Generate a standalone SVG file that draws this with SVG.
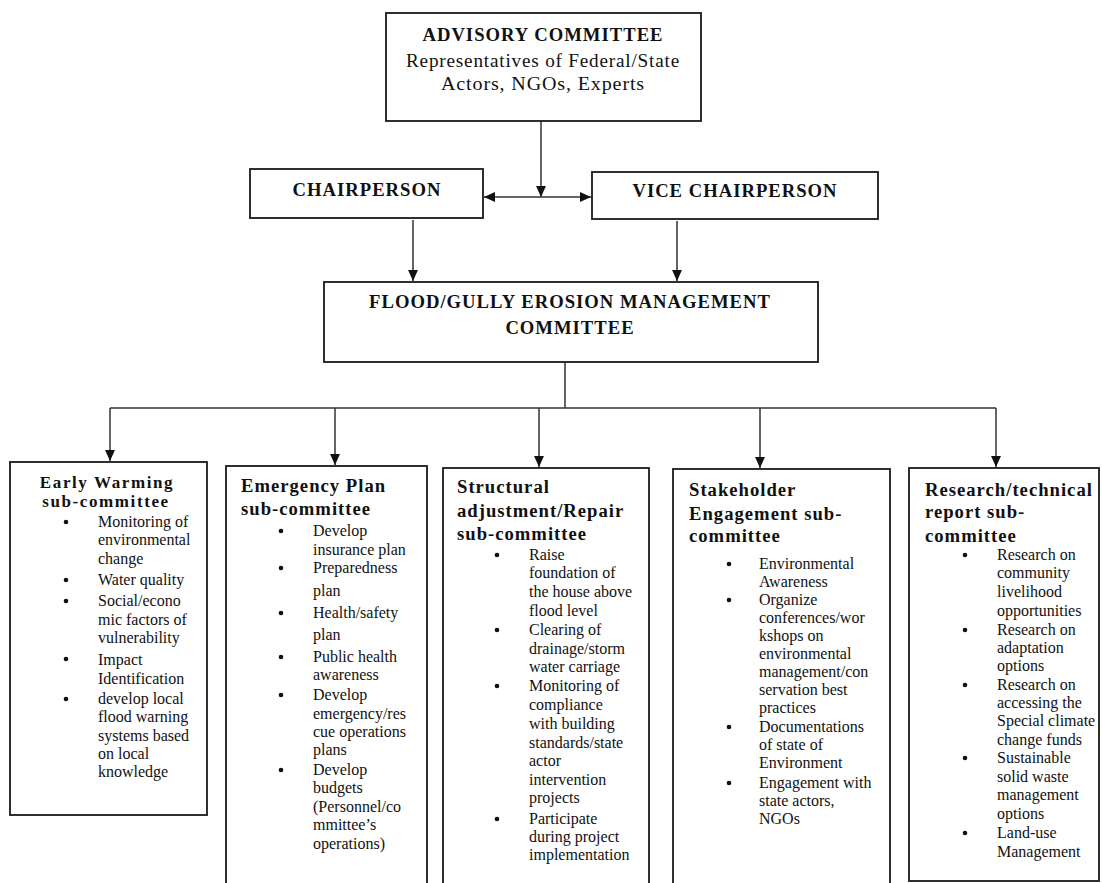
<svg xmlns="http://www.w3.org/2000/svg" width="1102" height="883" viewBox="0 0 1102 883">
<style>
.box{fill:#fff;stroke:#1a1a1a;stroke-width:1.8}
.t{font-family:"Liberation Serif","Times New Roman",serif;fill:#111}
.h{font-weight:bold;font-size:18.67px;letter-spacing:1px}
.hs{font-weight:bold;font-size:17px;letter-spacing:1.6px;text-anchor:middle}
.hc{text-anchor:middle}
.b{font-size:16px}
.sub{font-size:19px;letter-spacing:0.8px;text-anchor:middle}
.con{fill:none;stroke:#333;stroke-width:1.5}
.dot{fill:#111}
</style>
<defs>
<marker id="ah" viewBox="0 0 10 10" refX="10" refY="5" markerWidth="11" markerHeight="11" markerUnits="userSpaceOnUse" orient="auto-start-reverse">
<path d="M0,0.5 L10,5 L0,9.5 z" fill="#111"/>
</marker>
</defs>
<rect width="1102" height="883" fill="#fff"/>

<g id="connectors">
<line class="con" x1="541" y1="121" x2="541" y2="197" marker-end="url(#ah)"/>
<line class="con" x1="484" y1="197" x2="591" y2="197" marker-start="url(#ah)" marker-end="url(#ah)"/>
<line class="con" x1="413" y1="220" x2="413" y2="281" marker-end="url(#ah)"/>
<line class="con" x1="677" y1="221" x2="677" y2="281" marker-end="url(#ah)"/>
<path class="con" d="M565,362 V408 M110,408 H996"/>
<line class="con" x1="110" y1="408" x2="110" y2="461" marker-end="url(#ah)"/>
<line class="con" x1="335" y1="408" x2="335" y2="465" marker-end="url(#ah)"/>
<line class="con" x1="539" y1="408" x2="539" y2="467" marker-end="url(#ah)"/>
<line class="con" x1="760" y1="408" x2="760" y2="468" marker-end="url(#ah)"/>
<line class="con" x1="996" y1="408" x2="996" y2="467" marker-end="url(#ah)"/>
</g>

<g id="advisory">
<rect class="box" x="386" y="13" width="315" height="108"/>
<text class="t h hc" x="543" y="41">ADVISORY COMMITTEE</text>
<text class="t sub" x="543" y="67" textLength="274" lengthAdjust="spacingAndGlyphs">Representatives of Federal/State</text>
<text class="t sub" x="543" y="90" textLength="204" lengthAdjust="spacingAndGlyphs">Actors, NGOs, Experts</text>
</g>

<g id="chairperson">
<rect class="box" x="250" y="169" width="233" height="49"/>
<text class="t h hc" x="367" y="196">CHAIRPERSON</text>
</g>

<g id="vice-chairperson">
<rect class="box" x="592" y="172" width="286" height="47"/>
<text class="t h hc" x="735" y="197">VICE CHAIRPERSON</text>
</g>

<g id="fgemc">
<rect class="box" x="324" y="282" width="494" height="80"/>
<text class="t h hc" x="570" y="308">FLOOD/GULLY EROSION MANAGEMENT</text>
<text class="t h hc" x="570" y="334">COMMITTEE</text>
</g>

<g id="early-warming">
<rect class="box" x="10" y="462" width="197" height="353"/>
<text class="t hs" x="107" y="488">Early Warming</text>
<text class="t hs" x="106" y="507">sub-committee</text>
<circle class="dot" cx="66" cy="522" r="2.3"/>
<circle class="dot" cx="66" cy="580" r="2.3"/>
<circle class="dot" cx="66" cy="601" r="2.3"/>
<circle class="dot" cx="66" cy="659" r="2.3"/>
<circle class="dot" cx="66" cy="699" r="2.3"/>
<text class="t b">
<tspan x="98" y="527">Monitoring of</tspan>
<tspan x="98" y="545">environmental</tspan>
<tspan x="98" y="564">change</tspan>
<tspan x="98" y="585">Water quality</tspan>
<tspan x="98" y="606">Social/econo</tspan>
<tspan x="98" y="625">mic factors of</tspan>
<tspan x="98" y="643">vulnerability</tspan>
<tspan x="98" y="665">Impact</tspan>
<tspan x="98" y="684">Identification</tspan>
<tspan x="98" y="704">develop  local</tspan>
<tspan x="98" y="722">flood warning</tspan>
<tspan x="98" y="741">systems based</tspan>
<tspan x="98" y="759">on local</tspan>
<tspan x="98" y="777">knowledge</tspan>
</text>
</g>

<g id="emergency-plan">
<rect class="box" x="226" y="466" width="201" height="430"/>
<text class="t h" x="241" y="492">Emergency Plan</text>
<text class="t h" x="241" y="515">sub-committee</text>
<circle class="dot" cx="281" cy="531" r="2.3"/>
<circle class="dot" cx="281" cy="568" r="2.3"/>
<circle class="dot" cx="281" cy="613" r="2.3"/>
<circle class="dot" cx="281" cy="657" r="2.3"/>
<circle class="dot" cx="281" cy="695" r="2.3"/>
<circle class="dot" cx="281" cy="770" r="2.3"/>
<text class="t b">
<tspan x="313" y="536">Develop</tspan>
<tspan x="313" y="555">insurance plan</tspan>
<tspan x="313" y="573">Preparedness</tspan>
<tspan x="313" y="596">plan</tspan>
<tspan x="313" y="618">Health/safety</tspan>
<tspan x="313" y="640">plan</tspan>
<tspan x="313" y="662">Public health</tspan>
<tspan x="313" y="680">awareness</tspan>
<tspan x="313" y="700">Develop</tspan>
<tspan x="313" y="719">emergency/res</tspan>
<tspan x="313" y="737">cue operations</tspan>
<tspan x="313" y="755">plans</tspan>
<tspan x="313" y="775">Develop</tspan>
<tspan x="313" y="793">budgets</tspan>
<tspan x="313" y="812">(Personnel/co</tspan>
<tspan x="313" y="830">mmittee’s</tspan>
<tspan x="313" y="849">operations)</tspan>
</text>
</g>

<g id="structural">
<rect class="box" x="443" y="468" width="206" height="430"/>
<text class="t h" x="457" y="493">Structural</text>
<text class="t h" x="457" y="517">adjustment/Repair</text>
<text class="t h" x="457" y="540">sub-committee</text>
<circle class="dot" cx="497" cy="555" r="2.3"/>
<circle class="dot" cx="497" cy="630" r="2.3"/>
<circle class="dot" cx="497" cy="686" r="2.3"/>
<circle class="dot" cx="497" cy="819" r="2.3"/>
<text class="t b">
<tspan x="529" y="560">Raise</tspan>
<tspan x="529" y="578">foundation of</tspan>
<tspan x="529" y="597">the house above</tspan>
<tspan x="529" y="616">flood level</tspan>
<tspan x="529" y="635">Clearing of</tspan>
<tspan x="529" y="654">drainage/storm</tspan>
<tspan x="529" y="672">water carriage</tspan>
<tspan x="529" y="691">Monitoring of</tspan>
<tspan x="529" y="710">compliance</tspan>
<tspan x="529" y="729">with building</tspan>
<tspan x="529" y="748">standards/state</tspan>
<tspan x="529" y="766">actor</tspan>
<tspan x="529" y="785">intervention</tspan>
<tspan x="529" y="803">projects</tspan>
<tspan x="529" y="824">Participate</tspan>
<tspan x="529" y="842">during project</tspan>
<tspan x="529" y="860">implementation</tspan>
</text>
</g>

<g id="stakeholder">
<rect class="box" x="673" y="469" width="217" height="430"/>
<text class="t h" x="689" y="496">Stakeholder</text>
<text class="t h" x="689" y="520">Engagement sub-</text>
<text class="t h" x="689" y="542">committee</text>
<circle class="dot" cx="729" cy="564" r="2.3"/>
<circle class="dot" cx="729" cy="600" r="2.3"/>
<circle class="dot" cx="729" cy="727" r="2.3"/>
<circle class="dot" cx="729" cy="783" r="2.3"/>
<text class="t b">
<tspan x="759" y="569">Environmental</tspan>
<tspan x="759" y="587">Awareness</tspan>
<tspan x="759" y="605">Organize</tspan>
<tspan x="759" y="623">conferences/wor</tspan>
<tspan x="759" y="641">kshops on</tspan>
<tspan x="759" y="659">environmental</tspan>
<tspan x="759" y="677">management/con</tspan>
<tspan x="759" y="695">servation best</tspan>
<tspan x="759" y="713">practices</tspan>
<tspan x="759" y="732">Documentations</tspan>
<tspan x="759" y="750">of state of</tspan>
<tspan x="759" y="768">Environment</tspan>
<tspan x="759" y="788">Engagement with</tspan>
<tspan x="759" y="806">state actors,</tspan>
<tspan x="759" y="824">NGOs</tspan>
</text>
</g>

<g id="research">
<rect class="box" x="909" y="468" width="190" height="413"/>
<text class="t h" x="925" y="496">Research/technical</text>
<text class="t h" x="925" y="518">report sub-</text>
<text class="t h" x="925" y="542">committee</text>
<circle class="dot" cx="965" cy="555" r="2.3"/>
<circle class="dot" cx="965" cy="630" r="2.3"/>
<circle class="dot" cx="965" cy="685" r="2.3"/>
<circle class="dot" cx="965" cy="758" r="2.3"/>
<circle class="dot" cx="965" cy="833" r="2.3"/>
<text class="t b">
<tspan x="997" y="560">Research on</tspan>
<tspan x="997" y="578">community</tspan>
<tspan x="997" y="597">livelihood</tspan>
<tspan x="997" y="616">opportunities</tspan>
<tspan x="997" y="635">Research on</tspan>
<tspan x="997" y="653">adaptation</tspan>
<tspan x="997" y="671">options</tspan>
<tspan x="997" y="690">Research on</tspan>
<tspan x="997" y="708">accessing the</tspan>
<tspan x="997" y="726">Special climate</tspan>
<tspan x="997" y="745">change funds</tspan>
<tspan x="997" y="763">Sustainable</tspan>
<tspan x="997" y="782">solid waste</tspan>
<tspan x="997" y="800">management</tspan>
<tspan x="997" y="819">options</tspan>
<tspan x="997" y="838">Land-use</tspan>
<tspan x="997" y="857">Management</tspan>
</text>
</g>
</svg>
